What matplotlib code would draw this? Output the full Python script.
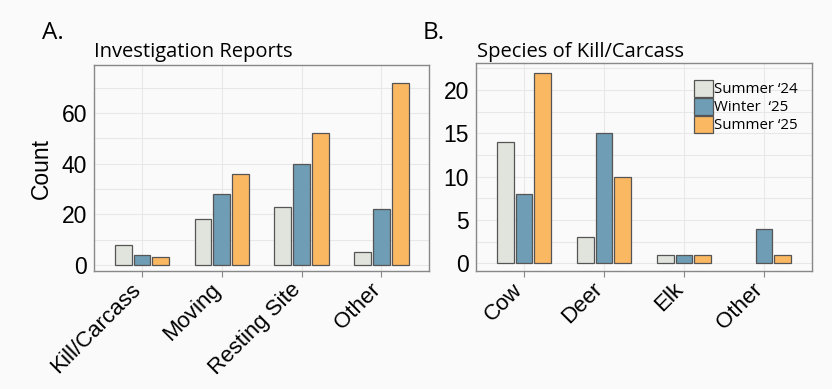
import matplotlib.pyplot as plt
import numpy as np
import matplotlib.transforms as mtrans

# data
seasons = ["Summer \u201824", "Winter  \u201825", "Summer \u201825"]
colors = ["#e1e4dc", "#6e9db5", "#fbb862"]

report_types = ["Kill/Carcass", "Moving", "Resting Site", "Other"]
reports_s24 = [8, 18, 23, 5]
reports_w25 = [4, 28, 40, 22]
reports_s25 = [3, 36, 52, 72]

species = ["Cow", "Deer", "Elk", "Other"]
species_s24 = [14, 3, 1, 0]
species_w25 = [8, 15, 1, 4]
species_s25 = [22, 10, 1, 1]

bg = "#fafafa"
fig = plt.figure(figsize=(8.32, 3.89), dpi=100, facecolor=bg)
axA = fig.add_axes([0.113, 0.303, 0.403, 0.530])
axB = fig.add_axes([0.572, 0.303, 0.404, 0.535])


def grouped(ax, cats, series, ylim, major, minor):
    x = np.arange(len(cats))
    w = 0.21
    step = 0.235
    for i, (vals, c, lab) in enumerate(zip(series, colors, seasons)):
        bars = ax.bar(x + (i - 1) * step, vals, width=w, color=c,
                      edgecolor="#555555", linewidth=0.9, label=lab, zorder=3)
        for b, v in zip(bars, vals):
            if v == 0:
                b.set_visible(False)
    ax.set_facecolor(bg)
    ax.set_xlim(-0.6, 3.6)
    ax.set_ylim(*ylim)
    ax.set_yticks(major)
    ax.set_yticks(minor, minor=True)
    ax.set_xticks(x)
    ax.grid(True, which="both", color="#e8e8e8", linewidth=0.8, zorder=0)
    ax.tick_params(axis="y", which="both", length=0, pad=5)
    ax.tick_params(axis="x", length=4, color="#888888", pad=0)
    ax.set_xticklabels(cats, rotation=45, ha="right", va="center",
                       rotation_mode="anchor", fontsize=16,
                       family="Liberation Sans")
    # push labels down-left so their upper end sits just left of the tick
    off = mtrans.ScaledTranslation(-3 / 72, -7 / 72, fig.dpi_scale_trans)
    for t in ax.get_xticklabels():
        t.set_transform(t.get_transform() + off)
    for t in ax.get_yticklabels():
        t.set_fontsize(16.5)
        t.set_family("Liberation Sans")
    for s in ax.spines.values():
        s.set_color("#888888")
        s.set_linewidth(1.0)


grouped(axA, report_types, [reports_s24, reports_w25, reports_s25],
        (-2.4, 79), [0, 20, 40, 60], [10, 30, 50, 70])
grouped(axB, species, [species_s24, species_w25, species_s25],
        (-0.9, 23.1), [0, 5, 10, 15, 20], [2.5, 7.5, 12.5, 17.5, 22.5])

axA.set_ylabel("Count", fontsize=16.5, family="Liberation Sans", labelpad=6)

fig.text(42 / 832, 1 - 39 / 389, "A.", fontsize=17.5, family="Open Sans",
         va="baseline", ha="left")
fig.text(423 / 832, 1 - 39 / 389, "B.", fontsize=17.5, family="Open Sans",
         va="baseline", ha="left")
fig.text(94 / 832, 1 - 57 / 389, "Investigation Reports", fontsize=14.5,
         family="Open Sans", va="baseline", ha="left")
fig.text(477 / 832, 1 - 57 / 389, "Species of Kill/Carcass", fontsize=14.5,
         family="Open Sans", va="baseline", ha="left")

axB.legend(loc="upper right", bbox_to_anchor=(0.958, 0.918), frameon=False,
           prop={"family": "Open Sans", "size": 10.8}, handlelength=1.27,
           handleheight=1.33, handletextpad=0.08, labelspacing=0.04,
           borderpad=0, borderaxespad=0)

fig.savefig("out.png", dpi=100, facecolor=bg)
